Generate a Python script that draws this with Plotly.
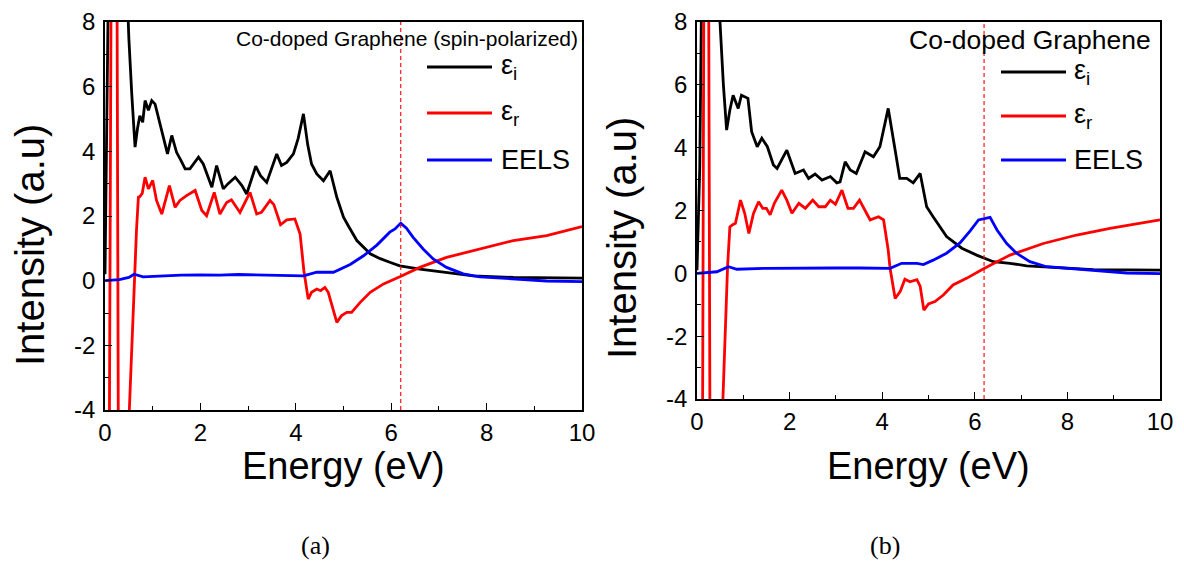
import plotly.graph_objects as go

# ---------------- data ----------------
# Panel (a): Co-doped graphene, spin-polarized
eps_i_a_x = [0, 0.02, 0.04, 0.07, 0.12, 0.3, 0.45, 0.5, 0.56, 0.63, 0.68, 0.73, 0.79, 0.84, 0.91, 0.98,
             1.05, 1.15, 1.31, 1.40, 1.50, 1.60, 1.68, 1.78, 1.96, 2.06, 2.24, 2.34, 2.48, 2.58, 2.73,
             2.87, 2.97, 3.16, 3.26, 3.39, 3.60, 3.70, 3.81, 3.95, 4.05, 4.16, 4.25, 4.33, 4.44, 4.58,
             4.72, 4.86, 5.0, 5.1, 5.28, 5.56, 5.77, 5.97, 6.18, 6.6, 7.16, 7.72, 8.56, 9.3, 10]
eps_i_a_y = [0.2, 3.0, 5.5, 9, 20, 30, 9.5, 7.5, 5.8, 4.13, 4.7, 5.1, 4.9, 5.57, 5.27, 5.57,
             5.46, 4.9, 3.92, 4.49, 3.97, 3.7, 3.46, 3.46, 3.82, 3.61, 2.89, 3.56, 2.84, 3.0, 3.2,
             2.94, 2.68, 3.54, 3.25, 3.04, 3.92, 3.56, 3.66, 3.92, 4.4, 5.16, 4.2, 3.61, 3.30, 3.09,
             3.40, 2.58, 1.96, 1.7, 1.24, 0.83, 0.68, 0.57, 0.46, 0.36, 0.26, 0.15, 0.1, 0.09, 0.08]

eps_r_a_x = [0, 0.10, 0.13, 0.19, 0.24, 0.28, 0.38, 0.51, 0.66, 0.70, 0.73, 0.78, 0.84, 0.91, 1.0,
             1.08, 1.19, 1.35, 1.47, 1.57, 1.71, 1.89, 2.03, 2.13, 2.29, 2.41, 2.55, 2.65, 2.83,
             3.04, 3.18, 3.28, 3.46, 3.54, 3.68, 3.81, 3.98, 4.09, 4.17, 4.26, 4.33, 4.44, 4.52,
             4.61, 4.68, 4.86, 4.96, 5.07, 5.17, 5.35, 5.56, 5.84, 6.18, 6.6, 7.16, 7.86, 8.56, 9.26, 10]
eps_r_a_y = [-40, -5, 10, 40, 10, -5, -40, -4, 1.55, 2.58, 2.6, 2.7, 3.2, 2.84, 3.1,
             2.48, 2.06, 2.94, 2.27, 2.48, 2.63, 2.79, 2.17, 2.01, 2.73, 2.06, 2.42, 2.5, 2.11,
             2.73, 2.06, 2.11, 2.48, 2.35, 1.73, 1.88, 1.91, 1.44, 0.3, -0.57, -0.36, -0.26, -0.31,
             -0.21, -0.36, -1.29, -1.08, -0.98, -0.98, -0.67, -0.36, -0.1, 0.12, 0.41, 0.72, 0.98, 1.24, 1.39, 1.67]

eels_a_x = [0, 0.3, 0.5, 0.61, 0.8, 1.2, 1.6, 2.0, 2.4, 2.8, 3.2, 3.6, 4.0, 4.16, 4.44, 4.79, 5.14,
            5.42, 5.7, 5.97, 6.08, 6.2, 6.32, 6.46, 6.67, 6.88, 7.16, 7.51, 7.86, 8.56, 9.26, 10]
eels_a_y = [0, 0.03, 0.1, 0.2, 0.12, 0.15, 0.17, 0.18, 0.17, 0.19, 0.18, 0.18, 0.17, 0.15, 0.26, 0.26, 0.5,
            0.77, 1.1, 1.5, 1.6, 1.78, 1.62, 1.34, 0.98, 0.67, 0.41, 0.21, 0.12, 0.05, -0.01, -0.03]

# Panel (b): Co-doped graphene
eps_i_b_x = [0, 0.03, 0.06, 0.1, 0.2, 0.35, 0.46, 0.5, 0.57, 0.64, 0.71, 0.78, 0.89, 0.96, 1.03, 1.1,
             1.18, 1.3, 1.4, 1.52, 1.65, 1.73, 1.94, 2.12, 2.3, 2.41, 2.55, 2.7, 2.88, 3.02, 3.09,
             3.2, 3.31, 3.44, 3.63, 3.81, 3.95, 4.13, 4.28, 4.38, 4.53, 4.67, 4.82, 4.96, 5.1, 5.39,
             5.72, 6.04, 6.4, 6.76, 7.12, 7.7, 8.56, 9.3, 10]
eps_i_b_y = [0.1, 1.5, 3.4, 9, 25, 30, 9, 7.8, 6.0, 4.56, 5.2, 5.67, 5.25, 5.67, 5.62, 5.57,
             4.51, 4.03, 4.3, 4.03, 3.45, 3.34, 3.92, 3.18, 3.29, 3.02, 3.16, 2.97, 3.08, 2.88, 2.91,
             3.55, 3.29, 3.18, 3.87, 3.71, 4.03, 5.25, 3.92, 3.02, 3.02, 2.88, 3.18, 2.12, 1.8, 1.17,
             0.8, 0.58, 0.37, 0.32, 0.24, 0.19, 0.12, 0.11, 0.1]

eps_r_b_x = [0, 0.12, 0.15, 0.2, 0.25, 0.28, 0.4, 0.56, 0.66, 0.71, 0.77, 0.83, 0.94, 1.03, 1.12,
             1.22, 1.33, 1.42, 1.5, 1.58, 1.67, 1.83, 1.94, 2.05, 2.2, 2.34, 2.5, 2.63, 2.77, 2.88,
             2.99, 3.13, 3.26, 3.38, 3.51, 3.63, 3.74, 3.92, 4.03, 4.13, 4.17, 4.28, 4.39, 4.49,
             4.6, 4.75, 4.82, 4.9, 5.0, 5.14, 5.32, 5.53, 5.82, 6.18, 6.5, 6.76, 7.48, 8.2, 8.92, 10]
eps_r_b_y = [-40, -5, 10, 40, 10, -5, -40, -4, 0.21, 1.48, 1.55, 1.59, 2.33, 1.91, 1.27,
             1.91, 2.28, 2.07, 2.07, 1.86, 2.23, 2.65, 2.33, 1.91, 2.23, 2.07, 2.33, 2.12, 2.12, 2.33,
             2.2, 2.65, 2.07, 2.07, 2.33, 2.01, 1.7, 1.8, 1.7, 0.74, 0.16, -0.8, -0.57, -0.19,
             -0.27, -0.2, -0.41, -1.17, -0.97, -0.9, -0.69, -0.37, -0.16, 0.14, 0.37, 0.58, 0.95, 1.22, 1.43, 1.7]

eels_b_x = [0, 0.43, 0.68, 0.86, 1.5, 2.0, 2.5, 3.0, 3.5, 4.0, 4.17, 4.42, 4.75, 4.89, 5.1, 5.39,
            5.68, 5.9, 6.08, 6.23, 6.33, 6.48, 6.69, 6.9, 7.19, 7.55, 7.98, 8.56, 9.28, 10]
eels_b_y = [0, 0.05, 0.21, 0.13, 0.16, 0.17, 0.16, 0.17, 0.17, 0.16, 0.16, 0.32, 0.32, 0.28, 0.42, 0.64,
            0.97, 1.35, 1.7, 1.75, 1.78, 1.38, 0.95, 0.64, 0.37, 0.21, 0.16, 0.08, 0.01, -0.01]

plasmon_a = 6.2
plasmon_b = 6.2

series_names = ["ε<sub>i</sub>", "ε<sub>r</sub>", "EELS"]
panel_titles = ["Co-doped Graphene (spin-polarized)", "Co-doped Graphene"]
captions = ["(a)", "(b)"]
x_title = "Energy (eV)"
y_title = "Intensity (a.u)"
x_tickvals = [0, 2, 4, 6, 8, 10]
x_ticktext = ["0", "2", "4", "6", "8", "10"]
y_tickvals = [-4, -2, 0, 2, 4, 6, 8]
y_ticktext = ["-4", "-2", "0", "2", "4", "6", "8"]

# ---------------- figure ----------------
# The page body has an 8px margin, so the figure is sized to fill the rest of the window
OFF = 8
W, H = 1184 - OFF, 567 - OFF
FONT = "Liberation Sans, Arial, sans-serif"
COLORS = ["#000000", "#ff0000", "#0000ff"]


def px(xp):
    return (xp - OFF) / W


def py(yp):
    return 1 - (yp - OFF) / H


panels = [
    dict(xa="x", ya="y", xdom=(105, 582), ydom=(22, 410),
         data=[(eps_i_a_x, eps_i_a_y), (eps_r_a_x, eps_r_a_y), (eels_a_x, eels_a_y)],
         plasmon=plasmon_a, title=panel_titles[0], title_size=21, title_right=580, title_y=38,
         leg_x=(427, 492), leg_rows=(67, 113, 160), leg_text_x=499,
         ytitle_xy=(30, 245), caption=captions[0], caption_x=315),
    dict(xa="x2", ya="y2", xdom=(697, 1160), ydom=(22, 399),
         data=[(eps_i_b_x, eps_i_b_y), (eps_r_b_x, eps_r_b_y), (eels_b_x, eels_b_y)],
         plasmon=plasmon_b, title=panel_titles[1], title_size=26.5, title_right=1153, title_y=40,
         leg_x=(1001, 1066), leg_rows=(72, 116, 160), leg_text_x=1072,
         ytitle_xy=(622, 238), caption=captions[1], caption_x=885),
]

fig = go.Figure()
shapes = []
annotations = []
layout_axes = {}

for i, p in enumerate(panels):
    for (xs, ys), name, col in zip(p["data"], series_names, COLORS):
        fig.add_trace(go.Scatter(x=xs, y=ys, mode="lines", name=name,
                                 line=dict(color=col, width=2.8),
                                 xaxis=p["xa"], yaxis=p["ya"], showlegend=False))
    suffix = "" if i == 0 else "2"
    axis_common = dict(showline=True, linecolor="black", linewidth=1.5, mirror=True,
                       ticks="inside", ticklen=7, tickwidth=1.2, tickcolor="black",
                       showgrid=False, zeroline=False, automargin=False,
                       tickfont=dict(family=FONT, size=24, color="black"),
                       minor=dict(ticks="inside", ticklen=4, tickwidth=1.2, tickcolor="black", dtick=1))
    layout_axes["xaxis" + suffix] = dict(axis_common, domain=[px(p["xdom"][0]), px(p["xdom"][1])],
                                         range=[0, 10], tickvals=x_tickvals, ticktext=x_ticktext,
                                         anchor="y" + suffix, ticklabelstandoff=0)
    layout_axes["yaxis" + suffix] = dict(axis_common, domain=[py(p["ydom"][1]), py(p["ydom"][0])],
                                         range=[-4, 8], tickvals=y_tickvals, ticktext=y_ticktext,
                                         anchor="x" + suffix, ticklabelstandoff=3)
    # dashed plasmon line
    shapes.append(dict(type="line", xref=p["xa"], yref=p["ya"] + " domain",
                       x0=p["plasmon"], x1=p["plasmon"], y0=0, y1=1,
                       line=dict(color="#ff0000", width=1.1, dash="4px,3px")))
    # legend (drawn manually)
    for row_y, name, col in zip(p["leg_rows"], series_names, COLORS):
        shapes.append(dict(type="line", xref="paper", yref="paper",
                           x0=px(p["leg_x"][0]), x1=px(p["leg_x"][1]), y0=py(row_y), y1=py(row_y),
                           line=dict(color=col, width=2.8)))
        annotations.append(dict(xref="paper", yref="paper", x=px(p["leg_text_x"]), y=py(row_y),
                                xanchor="left", yanchor="middle", showarrow=False, text=name,
                                font=dict(family=FONT, size=27, color="black")))
    # panel title
    annotations.append(dict(xref="paper", yref="paper", x=px(p["title_right"]), y=py(p["title_y"]),
                            xanchor="right", yanchor="middle", showarrow=False, text=p["title"],
                            font=dict(family=FONT, size=p["title_size"], color="black")))
    # axis titles
    annotations.append(dict(xref="paper", yref="paper", x=px((p["xdom"][0] + p["xdom"][1]) / 2), y=py(466),
                            xanchor="center", yanchor="middle", showarrow=False, text=x_title,
                            font=dict(family=FONT, size=38, color="black")))
    annotations.append(dict(xref="paper", yref="paper", x=px(p["ytitle_xy"][0]), y=py(p["ytitle_xy"][1]),
                            xanchor="center", yanchor="middle", showarrow=False, text=y_title,
                            textangle=-90, font=dict(family=FONT, size=40, color="black")))
    # caption
    annotations.append(dict(xref="paper", yref="paper", x=px(p["caption_x"]), y=py(545),
                            xanchor="center", yanchor="middle", showarrow=False, text=p["caption"],
                            font=dict(family="Liberation Serif, Times New Roman, serif", size=26, color="black")))

fig.update_layout(template="none", width=W, height=H, margin=dict(l=0, r=0, t=0, b=0),
                  paper_bgcolor="white", plot_bgcolor="white",
                  shapes=shapes, annotations=annotations, **layout_axes)

fig.write_html("out.html")
